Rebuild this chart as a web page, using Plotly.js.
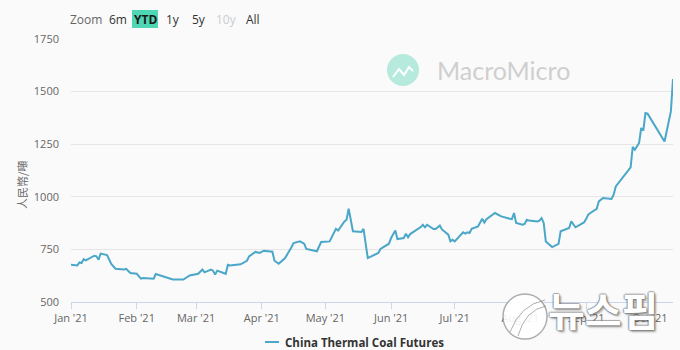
<!DOCTYPE html>
<html>
<head>
<meta charset="utf-8">
<script src="https://cdn.plot.ly/plotly-3.0.1.min.js"></script>
<style>
  html, body { margin: 0; padding: 0; background: #fafafa; }
  #chart { width: 680px; height: 350px; }
</style>
</head>
<body>
<div id="chart"></div>
<script>
const dates = [
  '2021-01-01','2021-01-04','2021-01-05','2021-01-06','2021-01-07','2021-01-08','2021-01-12','2021-01-13','2021-01-14','2021-01-15',
  '2021-01-18','2021-01-20','2021-01-22','2021-01-26','2021-01-27','2021-01-29','2021-02-01','2021-02-03','2021-02-04','2021-02-09',
  '2021-02-10','2021-02-18','2021-02-23','2021-02-26','2021-03-02','2021-03-04','2021-03-05','2021-03-08','2021-03-09','2021-03-10',
  '2021-03-11','2021-03-15','2021-03-16','2021-03-17','2021-03-22','2021-03-25','2021-03-26','2021-03-29','2021-03-31','2021-04-02',
  '2021-04-06','2021-04-07','2021-04-09','2021-04-12','2021-04-15','2021-04-16','2021-04-19','2021-04-21','2021-04-22','2021-04-27',
  '2021-04-29','2021-05-03','2021-05-06','2021-05-07','2021-05-10','2021-05-11','2021-05-12','2021-05-14','2021-05-18','2021-05-19',
  '2021-05-21','2021-05-25','2021-05-26','2021-05-27','2021-05-31','2021-06-01','2021-06-03','2021-06-04','2021-06-07','2021-06-08',
  '2021-06-09','2021-06-10','2021-06-15','2021-06-16','2021-06-17','2021-06-18','2021-06-21','2021-06-22','2021-06-24','2021-06-25',
  '2021-06-28','2021-06-29','2021-06-30','2021-07-01','2021-07-05','2021-07-06','2021-07-07','2021-07-08','2021-07-09','2021-07-12',
  '2021-07-14','2021-07-15','2021-07-16','2021-07-20','2021-07-23','2021-07-27','2021-07-28','2021-07-29','2021-07-30','2021-08-02',
  '2021-08-03','2021-08-04','2021-08-05','2021-08-09','2021-08-10','2021-08-11','2021-08-12','2021-08-13','2021-08-16','2021-08-19',
  '2021-08-20','2021-08-24','2021-08-25','2021-08-27','2021-08-31','2021-09-01','2021-09-02','2021-09-03','2021-09-06','2021-09-07',
  '2021-09-08','2021-09-09','2021-09-13','2021-09-14','2021-09-15','2021-09-16','2021-09-22','2021-09-23','2021-09-24','2021-09-26',
  '2021-09-27','2021-09-28','2021-09-29','2021-09-30','2021-10-08','2021-10-11','2021-10-12'
];
const coalPrice = [
  677,674,688,685,704,698,720,717,701,730,
  723,681,658,655,658,638,634,611,614,611,
  633,607,607,626,634,654,641,654,649,630,
  649,634,677,674,679,696,717,738,733,744,
  739,696,682,709,760,780,788,777,752,741,
  785,788,848,840,883,891,943,836,833,848,
  709,728,733,752,777,804,840,799,804,825,
  807,823,856,867,855,867,847,847,863,845,
  820,788,796,788,831,825,831,828,848,859,
  896,878,894,923,907,896,894,923,876,867,
  871,891,887,883,887,899,876,788,761,776,
  836,852,883,855,878,894,915,923,943,978,
  986,994,990,1010,1049,1062,1140,1237,1224,1256,
  1327,1314,1398,1395,1263,1406,1560
];
const seriesName = 'China Thermal Coal Futures';
const yTitle = '人民幣/噸';
const yTicks = [500, 750, 1000, 1250, 1500, 1750];
const rangeButtons = ['6m', 'YTD', '1y', '5y', '10y', 'All'];
const watermarkText = '뉴스핌';

// pixel -> paper helpers (plot area: x 71..673, y 39..302)
const L = 71, R = 673, T = 39, B = 302;
const px = x => (x - L) / (R - L);
const py = y => (B - y) / (B - T);

const font = '"Open Sans", "Noto Sans", sans-serif';

const trace = {
  type: 'scatter', mode: 'lines',
  x: dates, y: coalPrice, name: seriesName,
  line: { color: '#4aa7c7', width: 2 },
  hoverinfo: 'x+y'
};

const btnX = [118, 145, 172.5, 199, 226.5, 253];
const btnColor = ['#333', '#1a1a1a', '#333', '#333', '#cccccc', '#333'];

function ann(x, y, text, fnt, extra) {
  return Object.assign({ xref: 'paper', yref: 'paper', x: px(x), y: py(y), text: text, showarrow: false,
    xanchor: 'center', yanchor: 'middle', font: fnt }, extra || {});
}

const annotations = [
  ann(86, 19, 'Zoom', { family: font, size: 12, color: '#666' }),
  ann(22, 185, yTitle, { family: '"Noto Sans CJK TC", sans-serif', size: 11, color: '#666' }, { textangle: -90 }),
  ann(435, 70, 'MacroMicro', { family: 'Lato, sans-serif', size: 25, color: '#cfcfcf' }, { xanchor: 'left' }),
  ann(283, 342, '<b>' + seriesName + '</b>', { family: font, size: 11.5, color: '#333' }, { xanchor: 'left' }),
  ann(602.5, 309, '<b>' + watermarkText + '</b>', {
    family: '"Noto Sans CJK KR", sans-serif', size: 40, color: '#ffffff',
    shadow: '1px 0 1px rgba(110,110,110,0.55), -1px 0 1px rgba(110,110,110,0.55), 0 1px 1px rgba(110,110,110,0.55), 0 -1px 1px rgba(110,110,110,0.55), 2px 2px 2px rgba(90,90,90,0.5)'
  })
];
rangeButtons.forEach((b, i) => {
  annotations.push(ann(btnX[i], 19, b === 'YTD' ? '<b>' + b + '</b>' : b,
    { family: font, size: 12, color: btnColor[i] }));
});

const shapes = [
  { type: 'rect', xref: 'paper', yref: 'paper', x0: px(132), x1: px(158), y0: py(28), y1: py(10),
    fillcolor: '#4fd6b4', line: { width: 0 }, layer: 'below' },
  { type: 'circle', xref: 'paper', yref: 'paper', x0: px(387), x1: px(419), y0: py(86), y1: py(54),
    fillcolor: '#b5eadc', line: { width: 0 } },
  { type: 'path', xref: 'paper', yref: 'paper',
    path: 'M ' + px(393) + ' ' + py(77) + ' L ' + px(399) + ' ' + py(69) + ' L ' + px(404) + ' ' + py(75) + ' L ' + px(409) + ' ' + py(67) + ' L ' + px(413) + ' ' + py(71),
    line: { color: '#ffffff', width: 2 } },
  { type: 'line', xref: 'paper', yref: 'paper', x0: px(265), x1: px(279), y0: py(342), y1: py(342),
    line: { color: '#4aa7c7', width: 2 } },
  { type: 'circle', xref: 'paper', yref: 'paper', x0: px(503), x1: px(547), y0: py(339), y1: py(294),
    fillcolor: 'rgba(255,255,255,0.9)', line: { color: 'rgba(120,120,120,0.6)', width: 1.5 } },
  { type: 'path', xref: 'paper', yref: 'paper',
    path: 'M ' + px(510) + ' ' + py(332) + ' Q ' + px(520) + ' ' + py(305) + ' ' + px(545) + ' ' + py(300),
    line: { color: 'rgba(120,120,120,0.6)', width: 1 } },
  { type: 'path', xref: 'paper', yref: 'paper',
    path: 'M ' + px(518) + ' ' + py(336) + ' Q ' + px(525) + ' ' + py(310) + ' ' + px(546) + ' ' + py(306),
    line: { color: 'rgba(120,120,120,0.6)', width: 1 } }
];

const layout = {
  width: 680, height: 350,
  margin: { l: L, r: 680 - R, t: T, b: 350 - B },
  paper_bgcolor: '#fafafa', plot_bgcolor: '#fafafa',
  showlegend: false,
  font: { family: font, size: 11, color: '#666' },
  xaxis: {
    type: 'date', range: ['2021-01-01', '2021-10-12'],
    tick0: '2021-01-01', dtick: 'M1', tickformat: "%b '%y",
    showgrid: false, showline: true, linecolor: '#ccd6eb', linewidth: 1,
    ticks: 'outside', ticklen: 6, tickcolor: '#ccd6eb',
    tickfont: { family: font, size: 11, color: '#666' }, zeroline: false, fixedrange: true
  },
  yaxis: {
    range: [500, 1750], tickvals: yTicks, ticktext: yTicks.map(String),
    showgrid: true, gridcolor: '#e6e6e6', gridwidth: 1, zeroline: false, showline: false,
    ticks: '', ticklabelstandoff: 11,
    tickfont: { family: font, size: 11, color: '#666' }, fixedrange: true
  },
  annotations: annotations,
  shapes: shapes
};

Plotly.newPlot('chart', [trace], layout, { displayModeBar: false, staticPlot: true });
</script>
</body>
</html>
